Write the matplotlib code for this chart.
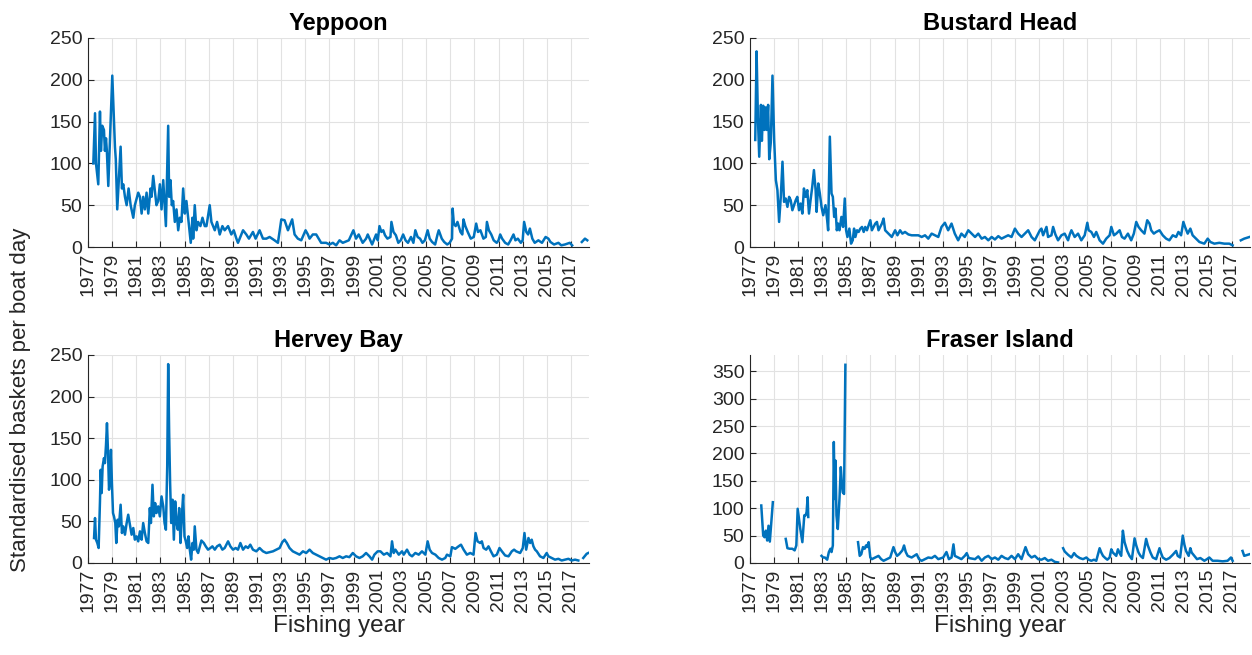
import numpy as np
import matplotlib.pyplot as plt

plt.rcParams["font.family"] = ["Liberation Sans", "DejaVu Sans"]

nan = np.nan

# Standardised catch rates (baskets per boat day) by fishing year
yep_year = [1977.44, 1977.58, 1977.66, 1977.85, 1977.99, 1978.07, 1978.18, 1978.32, 1978.40, 1978.49,
            1978.56, 1978.68, 1979.01, 1979.23, 1979.30, 1979.42, 1979.70, 1979.81, 1979.92, 1980.06,
            1980.20, 1980.36, 1980.53, 1980.75, 1980.88, 1981.16, 1981.30, 1981.44, 1981.57, 1981.71,
            1981.85, 1981.99, 1982.18, 1982.26, 1982.40, 1982.67, 1982.81, 1982.95, 1983.09, 1983.23,
            1983.45, 1983.64, 1983.72, 1983.83, 1983.94, 1984.05, 1984.19, 1984.33, 1984.47, 1984.60,
            1984.74, 1984.88, 1985.02, 1985.15, 1985.37, 1985.51, 1985.65, 1985.71, 1985.84, 1985.98,
            1986.12, 1986.31, 1986.48, 1986.67, 1986.81, 1987.08, 1987.22, 1987.50, 1987.69, 1987.91,
            1988.13, 1988.32, 1988.60, 1988.87, 1989.07, 1989.29, 1989.42, 1989.84, 1990.11, 1990.33,
            1990.66, 1990.88, 1991.21, 1991.49, 1991.77, 1992.04, 1992.45, 1992.73, 1993.01, 1993.28,
            1993.56, 1993.91, 1994.11, 1994.38, 1994.66, 1995.02, 1995.21, 1995.35, 1995.62, 1995.90,
            1996.31, 1996.72, 1997.00, 1997.28, 1997.55, 1997.83, 1998.10, 1998.60, 1998.98, 1999.20,
            1999.42, 1999.75, 2000.03, 2000.17, 2000.53, 2000.86, 2001.00, 2001.14, 2001.30, 2001.45,
            2001.60, 2001.80, 2002.05, 2002.13, 2002.30, 2002.50, 2002.70, 2002.90, 2003.10, 2003.30,
            2003.50, 2003.75, 2003.95, 2004.11, 2004.30, 2004.50, 2004.70, 2004.90, 2005.13, 2005.30,
            2005.50, 2005.75, 2005.95, 2006.05, 2006.30, 2006.50, 2006.75, 2006.95, 2007.15, 2007.20,
            2007.30, 2007.45, 2007.60, 2007.85, 2008.00, 2008.10, 2008.25, 2008.45, 2008.70, 2008.95,
            2009.15, 2009.30, 2009.50, 2009.75, 2009.95, 2010.04, 2010.20, 2010.40, 2010.60, 2010.85,
            2011.00, 2011.14, 2011.30, 2011.55, 2011.80, 2012.00, 2012.24, 2012.40, 2012.60, 2012.85,
            2013.00, 2013.12, 2013.30, 2013.45, 2013.60, 2013.80, 2014.00, 2014.30, 2014.60, 2014.90,
            2015.13, 2015.30, 2015.60, 2015.96, 2016.20, 2016.50, 2016.90, 2017.10, 2017.40, 2017.90,
            2018.16, 2018.35]
yep_cpue = [100, 160, 100, 75, 162, 115, 145, 140, 115, 130,
            115, 73, 205, 120, 105, 45, 120, 70, 75, 60,
            50, 70, 50, 35, 50, 65, 60, 40, 60, 45,
            65, 40, 70, 60, 85, 50, 55, 75, 45, 80,
            25, 145, 60, 80, 50, 55, 30, 45, 20, 35,
            30, 70, 40, 55, 25, 5, 35, 10, 50, 20,
            30, 25, 35, 25, 25, 50, 30, 20, 30, 15,
            25, 20, 25, 15, 20, 10, 5, 20, 15, 10,
            18, 10, 20, 10, 10, 12, 8, 5, 33, 32,
            20, 33, 15, 10, 8, 20, 15, 10, 15, 15,
            5, 5, 3, 5, 2, 8, 5, 8, 20, 10,
            15, 5, 10, 15, 3, 15, 8, 25, 18, 20,
            14, 10, 12, 30, 18, 14, 5, 8, 15, 8,
            5, 12, 5, 20, 12, 10, 5, 8, 20, 10,
            6, 3, 15, 20, 10, 6, 3, 5, 10, 46,
            28, 25, 30, 18, 15, 33, 25, 18, 10, 12,
            28, 18, 20, 10, 12, 30, 20, 15, 8, 5,
            8, 15, 10, 5, 3, 8, 15, 8, 10, 5,
            8, 30, 18, 15, 22, 10, 5, 8, 5, 12,
            10, 6, 3, 5, 2, 3, 5, 2, nan, 6,
            10, 8]

bus_year = [1977.44, 1977.55, 1977.66, 1977.77, 1977.91, 1977.99, 1978.10, 1978.21, 1978.32, 1978.40,
            1978.51, 1978.60, 1978.73, 1978.87, 1979.01, 1979.15, 1979.28, 1979.42, 1979.56, 1979.70,
            1979.83, 1979.97, 1980.11, 1980.25, 1980.38, 1980.52, 1980.66, 1980.80, 1980.93, 1981.07,
            1981.21, 1981.35, 1981.48, 1981.62, 1981.76, 1981.90, 1982.03, 1982.17, 1982.31, 1982.45,
            1982.53, 1982.67, 1982.80, 1982.94, 1983.08, 1983.27, 1983.41, 1983.49, 1983.63, 1983.77,
            1983.88, 1983.99, 1984.10, 1984.21, 1984.32, 1984.43, 1984.59, 1984.73, 1984.87, 1984.98,
            1985.09, 1985.25, 1985.39, 1985.53, 1985.64, 1985.75, 1985.89, 1986.02, 1986.16, 1986.30,
            1986.44, 1986.57, 1986.71, 1986.85, 1986.99, 1987.12, 1987.26, 1987.40, 1987.54, 1987.67,
            1987.81, 1987.95, 1988.09, 1988.22, 1988.50, 1988.77, 1988.91, 1989.05, 1989.24, 1989.46,
            1989.65, 1989.87, 1990.15, 1990.42, 1990.70, 1990.98, 1991.25, 1991.53, 1991.80, 1992.08,
            1992.35, 1992.63, 1992.90, 1993.18, 1993.45, 1993.73, 1994.00, 1994.28, 1994.55, 1994.83,
            1995.12, 1995.40, 1995.68, 1995.95, 1996.23, 1996.50, 1996.78, 1997.06, 1997.33, 1997.61,
            1997.88, 1998.16, 1998.43, 1998.71, 1998.99, 1999.26, 1999.54, 1999.81, 2000.09, 2000.37,
            2000.64, 2000.92, 2001.06, 2001.19, 2001.33, 2001.61, 2001.74, 2002.02, 2002.16, 2002.35,
            2002.57, 2002.85, 2003.12, 2003.26, 2003.40, 2003.54, 2003.68, 2003.95, 2004.23, 2004.50,
            2004.78, 2005.00, 2005.11, 2005.33, 2005.55, 2005.74, 2006.02, 2006.30, 2006.57, 2006.85,
            2006.99, 2007.21, 2007.40, 2007.68, 2007.87, 2008.09, 2008.37, 2008.64, 2008.86, 2009.06,
            2009.25, 2009.47, 2009.74, 2009.97, 2010.16, 2010.30, 2010.52, 2010.71, 2010.99, 2011.26,
            2011.54, 2011.81, 2012.09, 2012.37, 2012.56, 2012.78, 2012.97, 2013.11, 2013.33, 2013.55,
            2013.74, 2014.02, 2014.30, 2014.71, 2014.99, 2015.21, 2015.54, 2015.95, 2016.37, 2016.78,
            2017.06, 2017.33, 2017.74, 2018.02, 2018.46]
bus_cpue = [128, 234, 155, 108, 170, 127, 169, 140, 167, 140,
            170, 105, 125, 205, 128, 80, 68, 30, 60, 102,
            54, 58, 48, 60, 56, 44, 50, 56, 60, 44,
            52, 40, 70, 60, 68, 40, 56, 72, 92, 68,
            42, 76, 64, 48, 38, 50, 32, 20, 132, 64,
            60, 36, 46, 20, 28, 20, 36, 24, 58, 20,
            12, 22, 4, 8, 22, 12, 20, 18, 22, 24,
            18, 24, 20, 26, 32, 20, 24, 28, 30, 20,
            24, 28, 34, 20, 16, 12, 16, 20, 14, 20,
            16, 18, 15, 14, 14, 14, 12, 14, 10, 16,
            14, 12, 24, 29, 20, 28, 16, 8, 16, 12,
            20, 16, 12, 16, 10, 12, 8, 12, 9, 13,
            10, 12, 14, 12, 22, 16, 12, 16, 20, 12,
            8, 16, 20, 22, 14, 24, 12, 14, 24, 15,
            8, 14, 16, 12, 8, 15, 20, 12, 16, 8,
            14, 29, 20, 18, 12, 18, 8, 4, 10, 14,
            24, 14, 16, 20, 12, 10, 16, 8, 16, 30,
            24, 20, 16, 32, 28, 20, 16, 18, 20, 14,
            10, 8, 14, 12, 18, 14, 30, 24, 16, 22,
            14, 10, 6, 4, 10, 6, 4, 5, 4, 4,
            2, nan, 8, 10, 12]

her_year = [1977.50, 1977.58, 1977.66, 1977.77, 1977.88, 1977.99, 1978.05, 1978.13, 1978.21, 1978.32,
            1978.40, 1978.49, 1978.57, 1978.65, 1978.74, 1978.82, 1978.90, 1978.98, 1979.07, 1979.15,
            1979.26, 1979.34, 1979.45, 1979.56, 1979.70, 1979.81, 1979.92, 1980.06, 1980.20, 1980.33,
            1980.47, 1980.61, 1980.75, 1980.88, 1981.02, 1981.16, 1981.30, 1981.44, 1981.57, 1981.71,
            1981.85, 1981.99, 1982.12, 1982.21, 1982.34, 1982.45, 1982.56, 1982.67, 1982.81, 1982.95,
            1983.09, 1983.23, 1983.34, 1983.45, 1983.56, 1983.64, 1983.72, 1983.80, 1983.89, 1984.00,
            1984.11, 1984.22, 1984.33, 1984.44, 1984.55, 1984.66, 1984.77, 1984.88, 1984.99, 1985.10,
            1985.21, 1985.32, 1985.43, 1985.54, 1985.65, 1985.76, 1985.84, 1985.98, 1986.12, 1986.26,
            1986.39, 1986.59, 1986.75, 1986.94, 1987.14, 1987.30, 1987.50, 1987.69, 1987.91, 1988.13,
            1988.32, 1988.60, 1988.79, 1989.01, 1989.23, 1989.42, 1989.62, 1989.84, 1990.06, 1990.25,
            1990.44, 1990.66, 1990.94, 1991.21, 1991.49, 1991.77, 1992.04, 1992.32, 1992.59, 1992.87,
            1993.09, 1993.28, 1993.47, 1993.69, 1993.96, 1994.24, 1994.52, 1994.80, 1995.07, 1995.35,
            1995.62, 1995.90, 1996.17, 1996.45, 1996.72, 1997.00, 1997.28, 1997.55, 1997.83, 1998.10,
            1998.38, 1998.65, 1998.93, 1999.20, 1999.48, 1999.75, 2000.03, 2000.31, 2000.53, 2000.72,
            2000.99, 2001.22, 2001.50, 2001.77, 2002.05, 2002.18, 2002.32, 2002.46, 2002.74, 2003.01,
            2003.15, 2003.42, 2003.64, 2003.84, 2004.11, 2004.39, 2004.66, 2004.94, 2005.13, 2005.30,
            2005.49, 2005.77, 2006.04, 2006.32, 2006.59, 2006.73, 2007.01, 2007.14, 2007.42, 2007.69,
            2007.89, 2008.11, 2008.38, 2008.66, 2008.93, 2009.10, 2009.26, 2009.48, 2009.62, 2009.76,
            2009.98, 2010.17, 2010.37, 2010.59, 2010.86, 2011.08, 2011.28, 2011.55, 2011.83, 2012.10,
            2012.29, 2012.46, 2012.79, 2013.01, 2013.15, 2013.29, 2013.48, 2013.62, 2013.75, 2013.89,
            2014.03, 2014.17, 2014.44, 2014.72, 2014.99, 2015.13, 2015.41, 2015.68, 2015.96, 2016.23,
            2016.51, 2016.79, 2017.06, 2017.34, 2017.61, 2017.88, 2018.02, 2018.30, 2018.44]
her_cpue = [30, 54, 28, 24, 18, 74, 112, 84, 116, 126,
            120, 142, 168, 136, 88, 100, 136, 96, 60, 56,
            48, 24, 52, 44, 70, 36, 44, 34, 48, 58,
            46, 34, 42, 28, 32, 26, 38, 28, 48, 36,
            26, 24, 66, 48, 94, 56, 72, 60, 68, 56,
            80, 68, 48, 40, 116, 239, 157, 96, 48, 76,
            28, 74, 48, 40, 66, 24, 56, 82, 32, 26,
            18, 32, 16, 4, 24, 16, 44, 16, 12, 20,
            27, 24, 20, 16, 18, 20, 16, 20, 22, 16,
            18, 26, 20, 16, 18, 16, 24, 16, 20, 18,
            22, 16, 14, 18, 14, 12, 13, 14, 16, 18,
            25, 28, 24, 18, 14, 12, 10, 14, 12, 16,
            12, 10, 8, 6, 4, 6, 5, 6, 8, 6,
            8, 7, 12, 8, 6, 8, 12, 8, 4, 10,
            14, 14, 10, 12, 8, 26, 12, 16, 10, 14,
            10, 16, 10, 8, 12, 10, 14, 10, 26, 16,
            12, 10, 6, 4, 6, 10, 8, 19, 17, 20,
            22, 16, 10, 12, 10, 36, 26, 24, 26, 18,
            16, 20, 14, 8, 10, 18, 14, 9, 8, 14,
            16, 14, 12, 18, 36, 16, 30, 24, 28, 20,
            16, 14, 8, 6, 12, 8, 6, 4, 5, 3,
            4, 5, 3, 4, 3, nan, 6, 11, 12]

fra_year = [1977.94, 1978.10, 1978.21, 1978.32, 1978.43, 1978.54, 1978.65, 1978.76, 1978.90, 1979.40,
            1979.97, 1980.11, 1980.30, 1980.52, 1980.71, 1980.85, 1980.96, 1981.07, 1981.18, 1981.35,
            1981.51, 1981.62, 1981.70, 1981.79, 1981.84, 1982.40, 1982.94, 1983.08, 1983.22, 1983.41,
            1983.55, 1983.68, 1983.77, 1983.88, 1983.96, 1984.04, 1984.10, 1984.18, 1984.29, 1984.43,
            1984.54, 1984.62, 1984.70, 1984.81, 1984.92, 1985.40, 1985.97, 1986.11, 1986.24, 1986.38,
            1986.52, 1986.63, 1986.71, 1986.85, 1986.99, 1987.12, 1987.40, 1987.67, 1987.89, 1988.09,
            1988.36, 1988.64, 1988.91, 1989.05, 1989.21, 1989.38, 1989.54, 1989.65, 1989.79, 1989.93,
            1990.09, 1990.42, 1990.84, 1991.03, 1991.25, 1991.53, 1991.80, 1992.08, 1992.35, 1992.63,
            1993.04, 1993.31, 1993.51, 1993.73, 1993.89, 1994.00, 1994.28, 1994.55, 1994.83, 1994.99,
            1995.16, 1995.68, 1995.95, 1996.23, 1996.50, 1996.78, 1997.06, 1997.33, 1997.61, 1997.88,
            1998.16, 1998.43, 1998.71, 1998.99, 1999.26, 1999.54, 1999.87, 2000.09, 2000.37, 2000.64,
            2000.92, 2001.19, 2001.47, 2001.74, 2002.02, 2002.30, 2002.57, 2002.80, 2002.99, 2003.12,
            2003.40, 2003.68, 2003.90, 2004.09, 2004.37, 2004.64, 2004.92, 2005.11, 2005.33, 2005.55,
            2005.74, 2006.02, 2006.16, 2006.30, 2006.49, 2006.66, 2006.85, 2006.99, 2007.12, 2007.26,
            2007.40, 2007.54, 2007.68, 2007.81, 2007.95, 2008.09, 2008.31, 2008.50, 2008.70, 2008.92,
            2009.06, 2009.25, 2009.41, 2009.61, 2009.88, 2010.02, 2010.24, 2010.43, 2010.71, 2010.99,
            2011.12, 2011.26, 2011.54, 2011.81, 2012.09, 2012.37, 2012.50, 2012.70, 2012.92, 2013.06,
            2013.19, 2013.41, 2013.55, 2013.66, 2013.88, 2014.10, 2014.38, 2014.71, 2014.93, 2015.12,
            2015.40, 2015.81, 2016.23, 2016.64, 2016.92, 2017.06, 2017.40, 2017.88, 2018.02, 2018.30,
            2018.46]
fra_cpue = [105, 50, 47, 59, 41, 68, 39, 71, 111, nan,
            44, 27, 26, 26, 23, 32, 99, 80, 62, 38,
            87, 87, 93, 120, 84, nan, 13, 10, 10, 6,
            20, 26, 20, 32, 221, 117, 187, 87, 62, 117,
            175, 148, 129, 126, 362, nan, 38, 13, 16, 29,
            26, 32, 29, 38, 10, 7, 10, 13, 7, 4,
            7, 10, 29, 20, 13, 16, 20, 23, 32, 20,
            13, 10, 16, 7, 4, 7, 10, 9, 13, 7,
            10, 20, 7, 10, 34, 13, 10, 7, 13, 18,
            9, 7, 12, 4, 10, 13, 7, 10, 6, 13,
            9, 7, 13, 7, 16, 7, 29, 16, 10, 13,
            7, 6, 9, 4, 6, 2, 1, nan, 27, 21,
            15, 10, 18, 13, 9, 7, 10, 6, 4, 6,
            4, 27, 19, 13, 9, 6, 10, 25, 19, 16,
            13, 25, 18, 13, 59, 38, 22, 13, 7, 45,
            32, 19, 13, 9, 44, 32, 19, 10, 7, 27,
            18, 10, 6, 9, 15, 22, 13, 10, 50, 33,
            22, 13, 27, 19, 13, 7, 9, 4, 7, 10,
            4, 4, 3, 4, 10, 4, nan, 22, 13, 15,
            16]

year_ticks = list(range(1977, 2018, 2))
dark = "#262626"
blue = "#0072BD"

fig = plt.figure(figsize=(12.52, 6.55), dpi=100)

panels = [
    ("Yeppoon", yep_year, yep_cpue, [0.0703, 0.6229, 0.4002, 0.3191], 250, 50, False),
    ("Bustard Head", bus_year, bus_cpue, [0.5990, 0.6229, 0.3994, 0.3191], 250, 50, False),
    ("Hervey Bay", her_year, her_cpue, [0.0703, 0.1405, 0.4002, 0.3176], 250, 50, True),
    ("Fraser Island", fra_year, fra_cpue, [0.5990, 0.1405, 0.3994, 0.3176], 380, 50, True),
]

for name, yr, val, rect, ytop, ystep, bottom in panels:
    ax = fig.add_axes(rect)
    ax.plot(yr, val, color=blue, linewidth=1.8)
    ax.set_xlim(1977, 2018.5)
    ax.set_ylim(0, ytop)
    ax.set_xticks(year_ticks)
    ax.set_xticklabels([str(y) for y in year_ticks], rotation=90)
    ax.set_yticks(np.arange(0, ytop + 1, ystep))
    ax.grid(True, color="#e2e2e2", linewidth=0.8)
    ax.set_axisbelow(True)
    for side in ["top", "right"]:
        ax.spines[side].set_visible(False)
    for side in ["left", "bottom"]:
        ax.spines[side].set_color(dark)
        ax.spines[side].set_linewidth(0.8)
    ax.tick_params(direction="in", length=4, width=0.8, colors=dark,
                   labelsize=14, pad=4)
    ax.set_title(name, fontsize=17, fontweight="bold", pad=6)
    if bottom:
        ax.set_xlabel("Fishing year", fontsize=17.5, color=dark, labelpad=2)

fig.text(0.016, 0.39, "Standardised baskets per boat day", rotation=90,
         ha="center", va="center", fontsize=16, color=dark)

fig.savefig("out.png", dpi=100)
